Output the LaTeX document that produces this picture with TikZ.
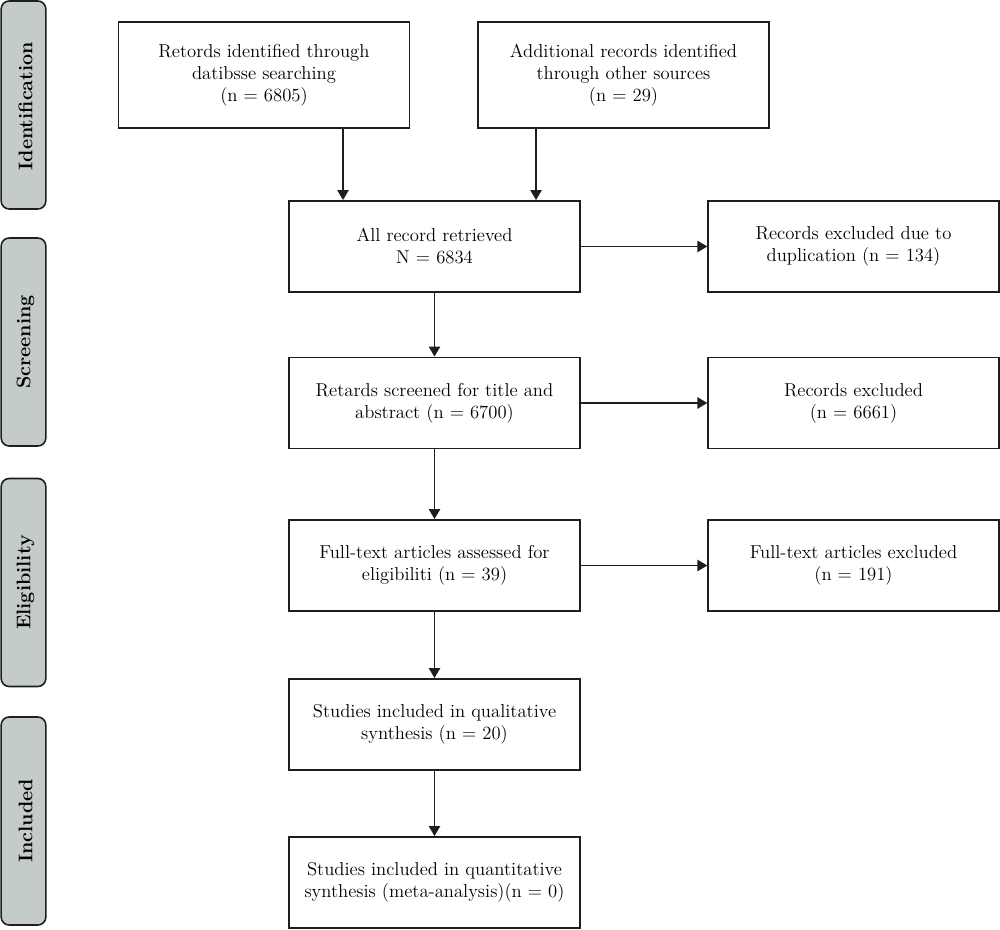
\documentclass[tikz,border=0pt]{standalone}
\usetikzlibrary{arrows.meta}
\definecolor{sidegray}{RGB}{195,204,202}
\definecolor{edge}{RGB}{30,30,30}
\begin{document}
\begin{tikzpicture}[x=0.75pt,y=-0.75pt,
  box/.style={draw=edge,line width=1.2pt,align=center,inner sep=2pt,
    font=\fontsize{14}{16.5}\selectfont,minimum width=218pt,minimum height=68.5pt},
  bigbox/.style={box,minimum height=79.5pt},
  side/.style={draw=edge,line width=1.2pt,fill=sidegray,rounded corners=6pt,
    minimum width=33.5pt,minimum height=156pt},
  sidelabel/.style={rotate=90,font=\fontsize{14.8}{18}\selectfont\bfseries},
  arr/.style={draw=edge,line width=1.2pt,-{Triangle[length=7.5pt,width=8.5pt]}}]
\useasboundingbox (0,0) rectangle (1000,929);
% side labels
\node[side] (s1) at (23.5,105) {};
\node[sidelabel] (s1t) at ([yshift=-1pt,xshift=1.5pt]s1.center) {Identification};
\node[side] (s2) at (23.5,342) {};
\node[sidelabel] (s2t) at ([xshift=1.5pt]s2.center) {Screening};
\node[side] (s3) at (23.5,582.5) {};
\node[sidelabel] (s3t) at ([xshift=1.5pt]s3.center) {Eligibility};
\node[side] (s4) at (23.5,821) {};
\node[sidelabel] (s4t) at ([xshift=1.5pt]s4.center) {Included};
% boxes
\node[bigbox] (b1) at (264,75) {Retords identified through\\datibsse searching\\(n = 6805)};
\node[bigbox] (b2) at (623.5,75) {Additional records identified\\through other sources\\(n = 29)};
\node[box] (b3) at (434.5,246.5) {All record retrieved\\N = 6834};
\node[box] (b4) at (853.5,246.5) {Records excluded due to\\duplication (n = 134)};
\node[box] (b5) at (434.5,403) {Retards screened for title and\\abstract (n = 6700)};
\node[box] (b6) at (853.5,403) {Records excluded\\(n = 6661)};
\node[box] (b7) at (434.5,565.5) {Full-text articles assessed for\\eligibiliti (n = 39)};
\node[box] (b8) at (853.5,565.5) {Full-text articles excluded\\(n = 191)};
\node[box] (b9) at (434.5,724.5) {Studies included in qualitative\\synthesis (n = 20)};
\node[box] (b10) at (434.5,882.5) {Studies included in quantitative\\synthesis (meta-analysis)(n = 0)};
% connectors
\draw[arr] ([xshift=59.25pt]b1.south) -- ([xshift=59.25pt]b1.south |- b3.north);
\draw[arr] ([xshift=-65.6pt]b2.south) -- ([xshift=-65.6pt]b2.south |- b3.north);
\draw[arr] (b3) -- (b4);
\draw[arr] (b3) -- (b5);
\draw[arr] (b5) -- (b6);
\draw[arr] (b5) -- (b7);
\draw[arr] (b7) -- (b8);
\draw[arr] (b7) -- (b9);
\draw[arr] (b9) -- (b10);
\end{tikzpicture}
\end{document}
